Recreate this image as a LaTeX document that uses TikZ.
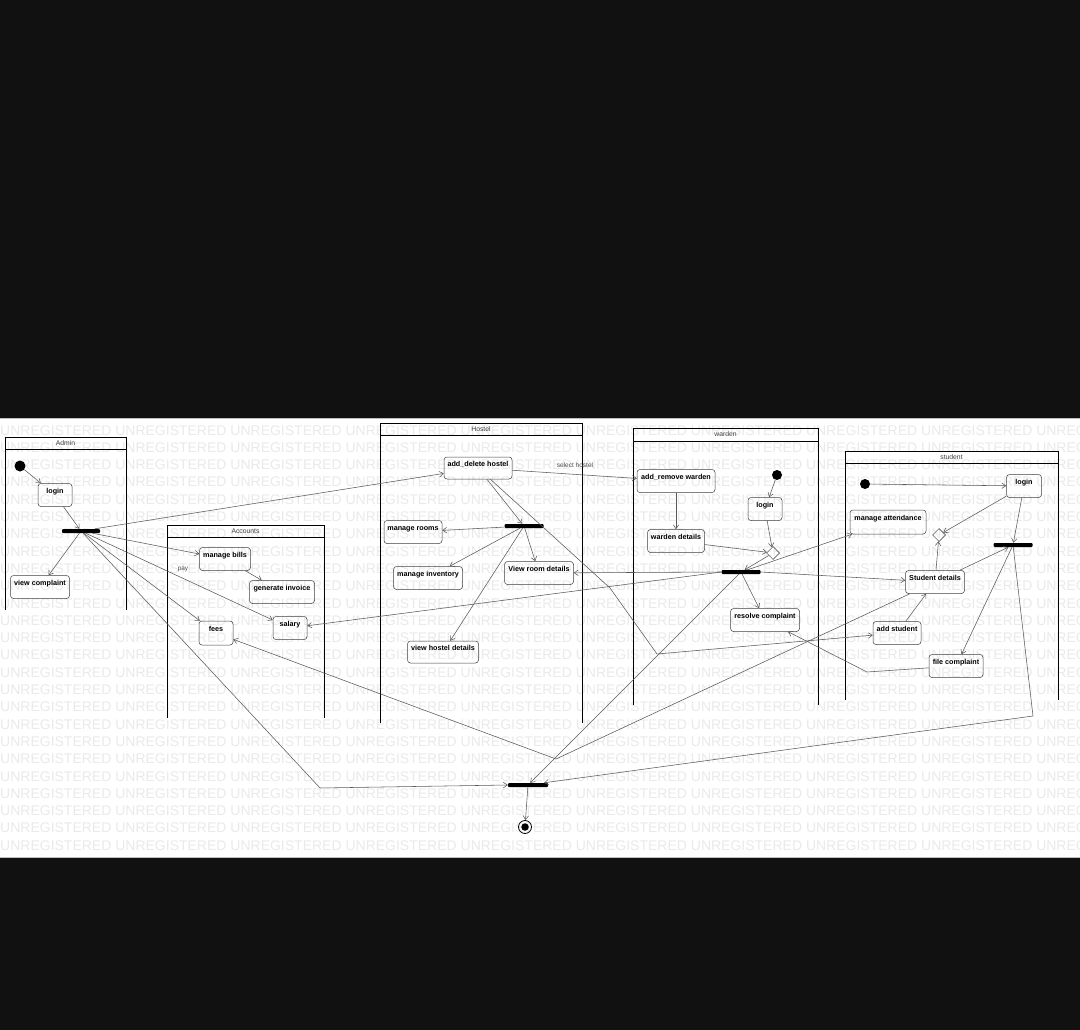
\documentclass[tikz,border=0pt]{standalone}
\usepackage{fontspec}
\setmainfont{Liberation Sans}
\usetikzlibrary{arrows.meta,shapes.geometric}
\definecolor{bgdark}{HTML}{111111}
\definecolor{wmgray}{HTML}{EAEAEA}
\definecolor{lgray}{HTML}{5A5A5A}
\newcommand\wmline{UNREGISTERED UNREGISTERED UNREGISTERED UNREGISTERED UNREGISTERED UNREGISTERED UNREGISTERED UNREGISTERED UNREGISTERED UNREGISTERED}
\begin{document}
\begin{tikzpicture}[x=1pt,y=-1pt,
  st/.style={draw=black!75, line width=0.5pt, rounded corners=3pt, minimum height=23pt,
    inner xsep=2pt, inner ysep=1pt, text height=5.5pt, text depth=9pt,
    font=\fontsize{7.2}{8}\selectfont\bfseries},
  bar/.style={fill=black, minimum height=4pt, inner sep=0pt, rounded corners=1pt},
  initdot/.style={circle, fill=black, minimum size=11pt, inner sep=0pt},
  dec/.style={diamond, draw=black!80, line width=0.5pt, minimum size=13pt, inner sep=0pt},
  arr/.style={draw=lgray, line width=0.55pt, -{Straight Barb[length=4pt,width=5.5pt]}},
  ln/.style={draw=lgray, line width=0.55pt},
  lane/.style={draw=black, line width=0.95pt},
  hdr/.style={font=\fontsize{6.8}{7}\selectfont, text=black!75, inner sep=0pt},
  lbl/.style={font=\fontsize{6.5}{7}\selectfont, text=black!70, inner sep=0pt},
  wm/.style={anchor=base west, inner sep=0pt, font=\fontsize{14}{14}\selectfont, text=wmgray}
]
\useasboundingbox (0,0) rectangle (1080,1030);
\fill[bgdark] (0,0) rectangle (1080,1030);
\fill[white] (0,418) rectangle (1080,858);
\draw[black!25, line width=1pt] (0,418.5) -- (1080,418.5);
\draw[black!25, line width=1pt] (0,857.5) -- (1080,857.5);
% watermark
\begin{scope}
\clip (0,419) rectangle (1080,857);
\foreach \r in {0,...,24}{\node[wm] (wm\r) at (0,{435+\r*17.3}) {\wmline};}
\end{scope}
% swimlanes
\draw[lane] (5,610) -- (5,437) -- (126,437) -- (126,610);
\draw[lane] (5,449) -- (126,449);
\node[hdr] (hadmin) at (65.5,443) {Admin};
\draw[lane] (167,718) -- (167,525) -- (324,525) -- (324,718);
\draw[lane] (167,537) -- (324,537);
\node[hdr] (haccounts) at (245.5,531) {Accounts};
\draw[lane] (380,723) -- (380,423) -- (582,423) -- (582,723);
\draw[lane] (380,435) -- (582,435);
\node[hdr] (hhostel) at (481,429) {Hostel};
\draw[lane] (633,705) -- (633,428) -- (818,428) -- (818,705);
\draw[lane] (633,441) -- (818,441);
\node[hdr] (hwarden) at (725.5,434.5) {warden};
\draw[lane] (845,700) -- (845,451) -- (1058,451) -- (1058,700);
\draw[lane] (845,463) -- (1058,463);
\node[hdr] (hstudent) at (951.5,457) {student};
% Admin
\node[initdot] (ainit) at (20,466) {};
\node[st, minimum width=34pt] (alogin) at (55,495) {login};
\node[bar, minimum width=38pt] (afork) at (81,531) {};
\node[st, minimum width=59pt] (vcomp) at (40,587) {view complaint};
% Accounts
\node[st, minimum width=51pt] (mbills) at (225,559) {manage bills};
\node[st, minimum width=65pt] (ginv) at (282,592) {generate invoice};
\node[st, minimum width=34pt, minimum height=24pt] (fees) at (216,633) {fees};
\node[st, minimum width=34pt] (salary) at (290,628) {salary};
% Hostel
\node[st, minimum width=68pt, minimum height=22pt] (adh) at (478,468) {add\_delete hostel};
\node[bar, minimum width=39pt] (hfork) at (524,526) {};
\node[st, minimum width=58pt] (mrooms) at (413,532) {manage rooms};
\node[st, minimum width=69pt] (minv) at (428,578) {manage inventory};
\node[st, minimum width=69pt] (vroom) at (539,573) {View room details};
\node[st, minimum width=71pt, minimum height=22pt] (vhostel) at (443,652) {view hostel details};
% warden
\node[st, minimum width=78pt] (arw) at (676,481) {add\_remove warden};
\node[initdot, minimum size=10pt] (winit) at (777,475) {};
\node[st, minimum width=34pt] (wlogin) at (765,509) {login};
\node[st, minimum width=57pt] (wdet) at (676,541) {warden details};
\node[dec] (wdia) at (773,553) {};
\node[bar, minimum width=39pt] (wfork) at (741,572) {};
\node[st, minimum width=69pt] (rcomp) at (765,620) {resolve complaint};
% student
\node[initdot, minimum size=10pt] (sinit) at (865,484) {};
\node[st, minimum width=35pt] (slogin) at (1024,486) {login};
\node[st, minimum width=76pt, minimum height=24pt] (matt) at (888,522) {manage attendance};
\node[dec] (sdia) at (939,535) {};
\node[bar, minimum width=39pt] (sfork) at (1013,545) {};
\node[st, minimum width=59pt] (sdet) at (935,582) {Student details};
\node[st, minimum width=48pt] (astu) at (897,633) {add student};
\node[st, minimum width=54pt] (fcomp) at (956,666) {file complaint};
% final
\node[bar, minimum width=40pt] (fbar) at (528,785) {};
\node[circle, draw=black, line width=0.8pt, minimum size=13pt, inner sep=0pt] (fin) at (525,827) {};
\node[circle, fill=black, minimum size=7.5pt, inner sep=0pt] (finin) at (525,827) {};
% bend points
\coordinate (b1) at (320,788);
\coordinate (b2) at (556,759);
\coordinate (b3) at (1033,716);
\coordinate (b4) at (610,588);
\coordinate (b5) at (657,654);
\coordinate (b6) at (867,672);
% Admin connectors
\draw[arr] (ainit) -- (alogin);
\draw[arr] (alogin) -- (afork);
\draw[arr] (afork) -- (vcomp);
\draw[arr] (afork) -- (adh);
\draw[arr] (afork) -- (mbills);
\draw[arr] (afork) -- (salary);
\node[lbl] (paylbl) at (183,569) {pay};
\draw[arr] (afork) -- (fees);
\draw[arr] (afork) -- (b1) -- (fbar.west);
\draw[arr] (mbills) -- (ginv);
% Hostel connectors
\draw[arr] (adh) -- (hfork);
\draw[arr] (hfork) -- (mrooms);
\draw[arr] (hfork) -- (minv);
\draw[arr] (hfork) -- (vroom);
\draw[arr] (hfork) -- (vhostel);
\draw[arr] (adh) -- (arw);
\node[lbl] (sellbl) at (575,465) {select hostel};
\draw[arr] (adh) -- (b4) -- (b5) -- (astu);
% warden connectors
\draw[arr] (arw) -- (wdet);
\draw[arr] (winit) -- (wlogin);
\draw[arr] (wlogin) -- (wdia);
\draw[arr] (wdet) -- (wdia);
\draw[arr] (wdia) -- (wfork);
\draw[arr] (wfork) -- (rcomp);
\draw[arr] (wfork.west) -- (vroom);
\draw[arr] (wfork.west) -- (salary);
\draw[arr] (wfork.east) -- (sdet);
\draw[arr] (wfork) -- (matt);
\draw[arr] (wfork) -- (fbar);
% student connectors
\draw[arr] (sinit) -- (slogin);
\draw[arr] (slogin) -- (sdia);
\draw[arr] (slogin) -- (sfork);
\draw[arr] (sdet) -- (sdia);
\draw[arr] (sdet) -- (sfork);
\draw[arr] (sfork) -- (fcomp);
\draw[arr] (sfork) -- (b3) -- (fbar);
\draw[arr] (astu) -- (sdet);
\draw[arr] (sdet) -- (b2) -- (fees);
\draw[arr] (fcomp) -- (b6) -- (rcomp);
% final
\draw[arr] (fbar) -- (fin);
\end{tikzpicture}
\end{document}
